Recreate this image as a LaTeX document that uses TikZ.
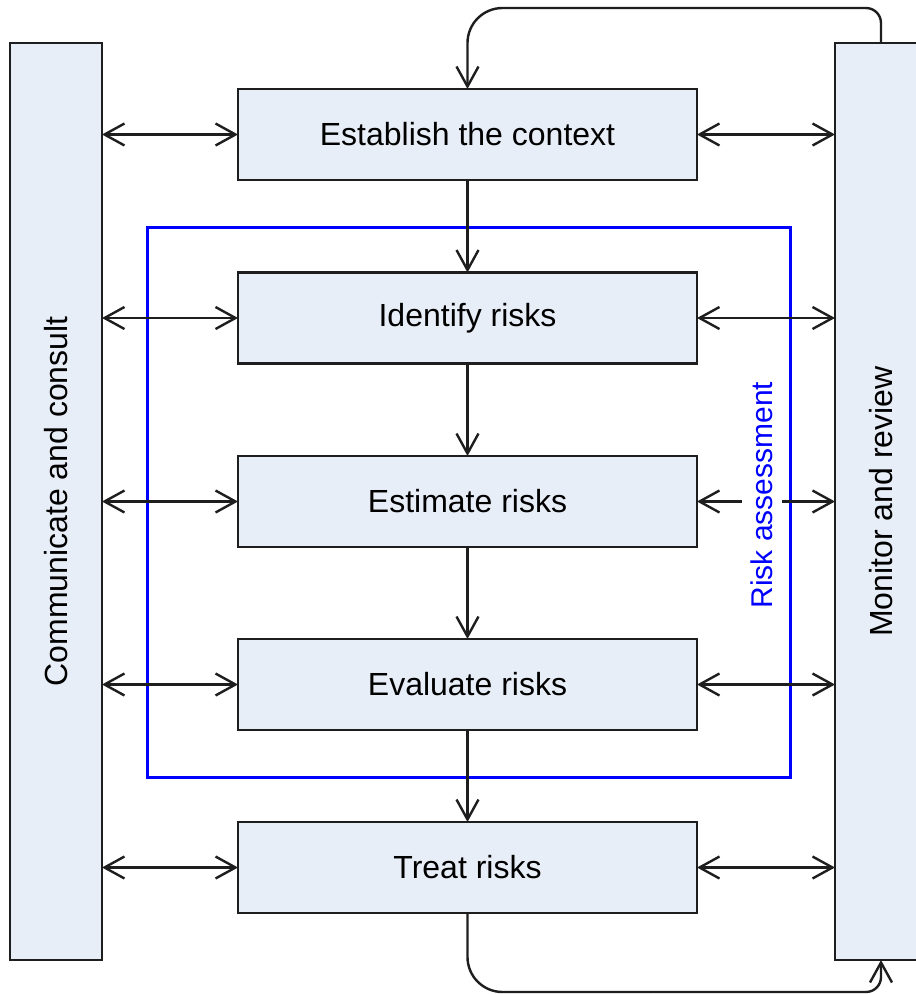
\documentclass[tikz,border=0pt]{standalone}
\usepackage{fontspec}
\setmainfont{Liberation Sans}
\usetikzlibrary{arrows.meta}
\definecolor{boxfill}{RGB}{232,238,247}
\definecolor{boxline}{RGB}{30,30,30}
\begin{document}
\begin{tikzpicture}[x=1pt,y=-1pt,
  stepbox/.style={draw=boxline,fill=boxfill,line width=2.4pt,inner sep=0pt,outer sep=0pt,
    minimum width=459pt,minimum height=91pt,font=\fontsize{32}{38}\selectfont},
  sidebox/.style={draw=boxline,fill=boxfill,line width=2.4pt,inner sep=0pt,outer sep=0pt,
    minimum width=917pt,minimum height=92pt,rotate=90,font=\fontsize{32}{38}\selectfont},
  tipV/.tip={Straight Barb[length=20pt,width=22pt,line width=2.4pt]},
  flow/.style={draw=boxline,line width=2.4pt,-tipV},
  both/.style={draw=boxline,line width=2.4pt,tipV-tipV},
  plain/.style={draw=boxline,line width=2.4pt},
]
\useasboundingbox (0,0) rectangle (916,994);
\fill[white] (0,0) rectangle (916,994);

% side panels
\node[sidebox] (comm) at (56,501.5) {Communicate and consult};
\node[sidebox] (mon)  at (881,501.5) {Monitor and review};

% process steps
\node[stepbox] (ctx)   at (467.5,134.5) {Establish the context};
\node[stepbox] (ident) at (467.5,318)   {Identify risks};
\node[stepbox] (estim) at (467.5,501.5) {Estimate risks};
\node[stepbox] (evalr) at (467.5,684.5) {Evaluate risks};
\node[stepbox] (treat) at (467.5,867.5) {Treat risks};

% risk assessment frame
\draw[blue,line width=3pt] (147,227) rectangle (790,777);

% downward flow
\draw[flow] (ctx.south) -- (ident.north);
\draw[flow] (ident.south) -- (estim.north);
\draw[flow] (estim.south) -- (evalr.north);
\draw[flow] (evalr.south) -- (treat.north);

% exchanges with the side panels
\foreach \s in {ctx,ident,estim,evalr,treat}{
  \draw[both] (\s.west -| comm.south) -- (\s.west);
  \draw[both] (\s.east) -- (\s.east -| mon.north);
}

% frame label
\node[rotate=90,fill=white,inner sep=8.5pt,text=blue,font=\fontsize{30}{36}\selectfont]
  (ralabel) at (762,495) {Risk assessment};

% feedback loops
\coordinate (topmid) at (650,8);
\coordinate (botmid) at (650,992);
\draw[plain,rounded corners=15pt] (mon.east) |- (topmid);
\draw[flow,rounded corners=35pt] (topmid) -| (ctx.north);
\draw[plain,rounded corners=35pt] (treat.south) |- (botmid);
\draw[flow,rounded corners=15pt] (botmid) -| (mon.west);
\end{tikzpicture}
\end{document}
